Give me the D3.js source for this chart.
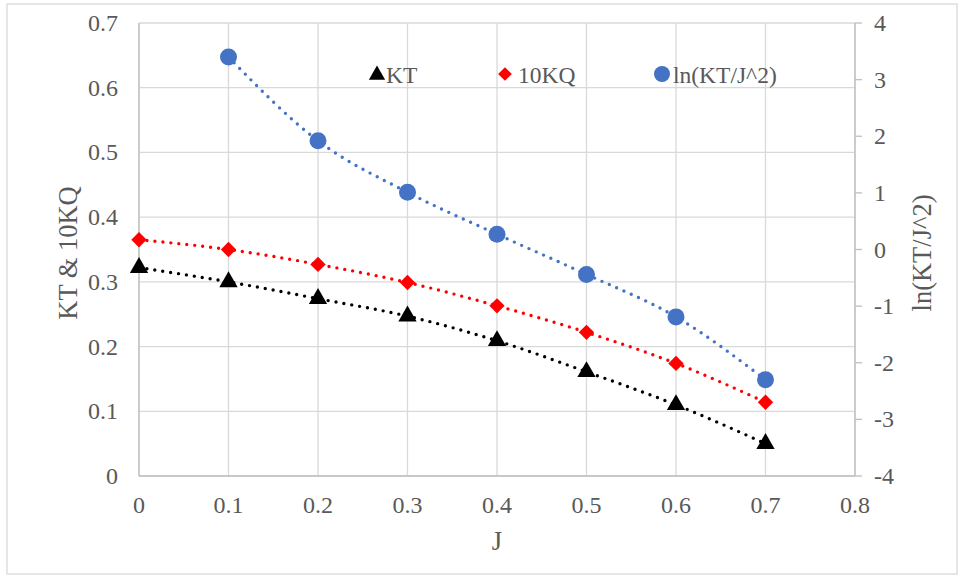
<html>
<head>
    <style>
        body { margin: 0; background: #fff; }
        .grid line { stroke: #d9d9d9; stroke-width: 1.3 }
    </style>
</head>
<body>
    <svg id="container" width="962" height="578"></svg>
</body>
<script src="https://cdn.jsdelivr.net/npm/d3@7"></script>
<script>
    // data
    let J = [0, 0.1, 0.2, 0.3, 0.4, 0.5, 0.6, 0.7]
    let KT = [0.322, 0.300, 0.274, 0.247, 0.209, 0.161, 0.110, 0.050]
    let KQ10 = [0.365, 0.350, 0.327, 0.299, 0.263, 0.222, 0.174, 0.114]
    let lnJ = [0.1, 0.2, 0.3, 0.4, 0.5, 0.6, 0.7]
    let lnKT = [3.40, 1.92, 1.01, 0.27, -0.44, -1.19, -2.30]
    let xTicks = [0, 0.1, 0.2, 0.3, 0.4, 0.5, 0.6, 0.7, 0.8]
    let yLeftTicks = [0, 0.1, 0.2, 0.3, 0.4, 0.5, 0.6, 0.7]
    let yRightTicks = [-4, -3, -2, -1, 0, 1, 2, 3, 4]

    let FONT = "'Liberation Serif'"
    let svg = d3.select("#container")

    // outer chart border
    svg.append("rect")
        .attr("x", 7).attr("y", 4).attr("width", 950).attr("height", 570)
        .attr("fill", "none").attr("stroke", "#d9d9d9").attr("stroke-width", 1.3)

    let x = d3.scaleLinear().domain([0, 0.8]).range([139, 855])
    let yL = d3.scaleLinear().domain([0, 0.7]).range([476, 23])
    let yR = d3.scaleLinear().domain([-4, 4]).range([476, 23])

    // grid
    let grid = svg.append("g").attr("class", "grid")
    grid.selectAll(".h").data(yLeftTicks).enter().append("line")
        .attr("x1", x(0)).attr("x2", x(0.8))
        .attr("y1", d => yL(d)).attr("y2", d => yL(d))
    grid.selectAll(".v").data(xTicks).enter().append("line")
        .attr("x1", d => x(d)).attr("x2", d => x(d))
        .attr("y1", yL(0)).attr("y2", yL(0.7))

    // axes lines
    svg.append("line").attr("x1", x(0)).attr("x2", x(0.8)).attr("y1", yL(0)).attr("y2", yL(0))
        .attr("stroke", "#bfbfbf").attr("stroke-width", 1.3)
    svg.append("line").attr("x1", x(0)).attr("x2", x(0)).attr("y1", yL(0)).attr("y2", yL(0.7))
        .attr("stroke", "#bfbfbf").attr("stroke-width", 1.3)
    svg.append("line").attr("x1", x(0.8)).attr("x2", x(0.8)).attr("y1", yL(0)).attr("y2", yL(0.7))
        .attr("stroke", "#bfbfbf").attr("stroke-width", 1.3)
    svg.selectAll(".rtick").data(yRightTicks).enter().append("line")
        .attr("x1", x(0.8)).attr("x2", x(0.8) + 7)
        .attr("y1", d => yR(d)).attr("y2", d => yR(d))
        .attr("stroke", "#bfbfbf").attr("stroke-width", 1.3)

    // tick labels
    let tick = svg.append("g").attr("class", "ticks")
    tick.selectAll(".xl").data(xTicks).enter().append("text")
        .attr("x", d => x(d)).attr("y", 513).attr("text-anchor", "middle").text(d => d)
    tick.selectAll(".yl").data(yLeftTicks).enter().append("text")
        .attr("x", 118).attr("y", d => yL(d) + 8).attr("text-anchor", "end").text(d => d)
    tick.selectAll(".yr").data(yRightTicks).enter().append("text")
        .attr("x", 874).attr("y", d => yR(d) + 8).attr("text-anchor", "start").text(d => d)

    // axis titles
    let ttl = svg.append("g").attr("class", "titles")
    ttl.append("text").attr("x", x(0.4)).attr("y", 550).attr("text-anchor", "middle").text("J")
    ttl.append("text").attr("transform", "translate(77,253) rotate(-90)").attr("text-anchor", "middle")
        .text("KT & 10KQ")
    ttl.append("text").attr("transform", "translate(931,253) rotate(-90)").attr("text-anchor", "middle")
        .text("ln(KT/J^2)")

    // trend lines (dotted)
    function dotted(xs, ys, yScale, color) {
        let pts = xs.map((d, i) => [x(d), yScale(ys[i])])
        svg.append("path")
            .attr("d", d3.line().curve(d3.curveMonotoneX)(pts))
            .attr("fill", "none").attr("stroke", color).attr("stroke-width", 3.4)
            .attr("stroke-linecap", "round").attr("stroke-dasharray", "0 8")
    }
    dotted(J, KT, yL, "#000000")
    dotted(J, KQ10, yL, "#ff0000")
    dotted(lnJ, lnKT, yR, "#4472c4")

    // markers
    svg.selectAll(".kt").data(J).enter().append("path")
        .attr("transform", (d, i) => `translate(${x(d)},${yL(KT[i])})`)
        .attr("d", d3.symbol(d3.symbolTriangle, 145)).attr("fill", "#000")
    svg.selectAll(".kq").data(J).enter().append("path")
        .attr("transform", (d, i) => `translate(${x(d)},${yL(KQ10[i])})`)
        .attr("d", d3.symbol(d3.symbolDiamond2, 150)).attr("fill", "#ff0000")
    svg.selectAll(".ln").data(lnJ).enter().append("circle")
        .attr("cx", d => x(d)).attr("cy", (d, i) => yR(lnKT[i]))
        .attr("r", 8.5).attr("fill", "#4472c4")

    // legend
    let lg = svg.append("g").attr("class", "legend")
    lg.append("path").attr("transform", "translate(377,75)")
        .attr("d", d3.symbol(d3.symbolTriangle, 115)).attr("fill", "#000")
    lg.append("text").attr("x", 386).attr("y", 83).text("KT")
    lg.append("path").attr("transform", "translate(505,74)")
        .attr("d", d3.symbol(d3.symbolDiamond2, 120)).attr("fill", "#ff0000")
    lg.append("text").attr("x", 518).attr("y", 83).text("10KQ")
    lg.append("circle").attr("cx", 662).attr("cy", 74).attr("r", 8).attr("fill", "#4472c4")
    lg.append("text").attr("x", 673).attr("y", 83).text("ln(KT/J^2)")

    // font + colour for every text
    svg.selectAll("text").style("font-family", FONT).style("fill", "#595959")
    svg.selectAll(".ticks text").style("font-size", "24px")
    svg.selectAll(".legend text").style("font-size", "23.5px")
    svg.selectAll(".titles text").style("font-size", "26.5px")
</script>
</html>
